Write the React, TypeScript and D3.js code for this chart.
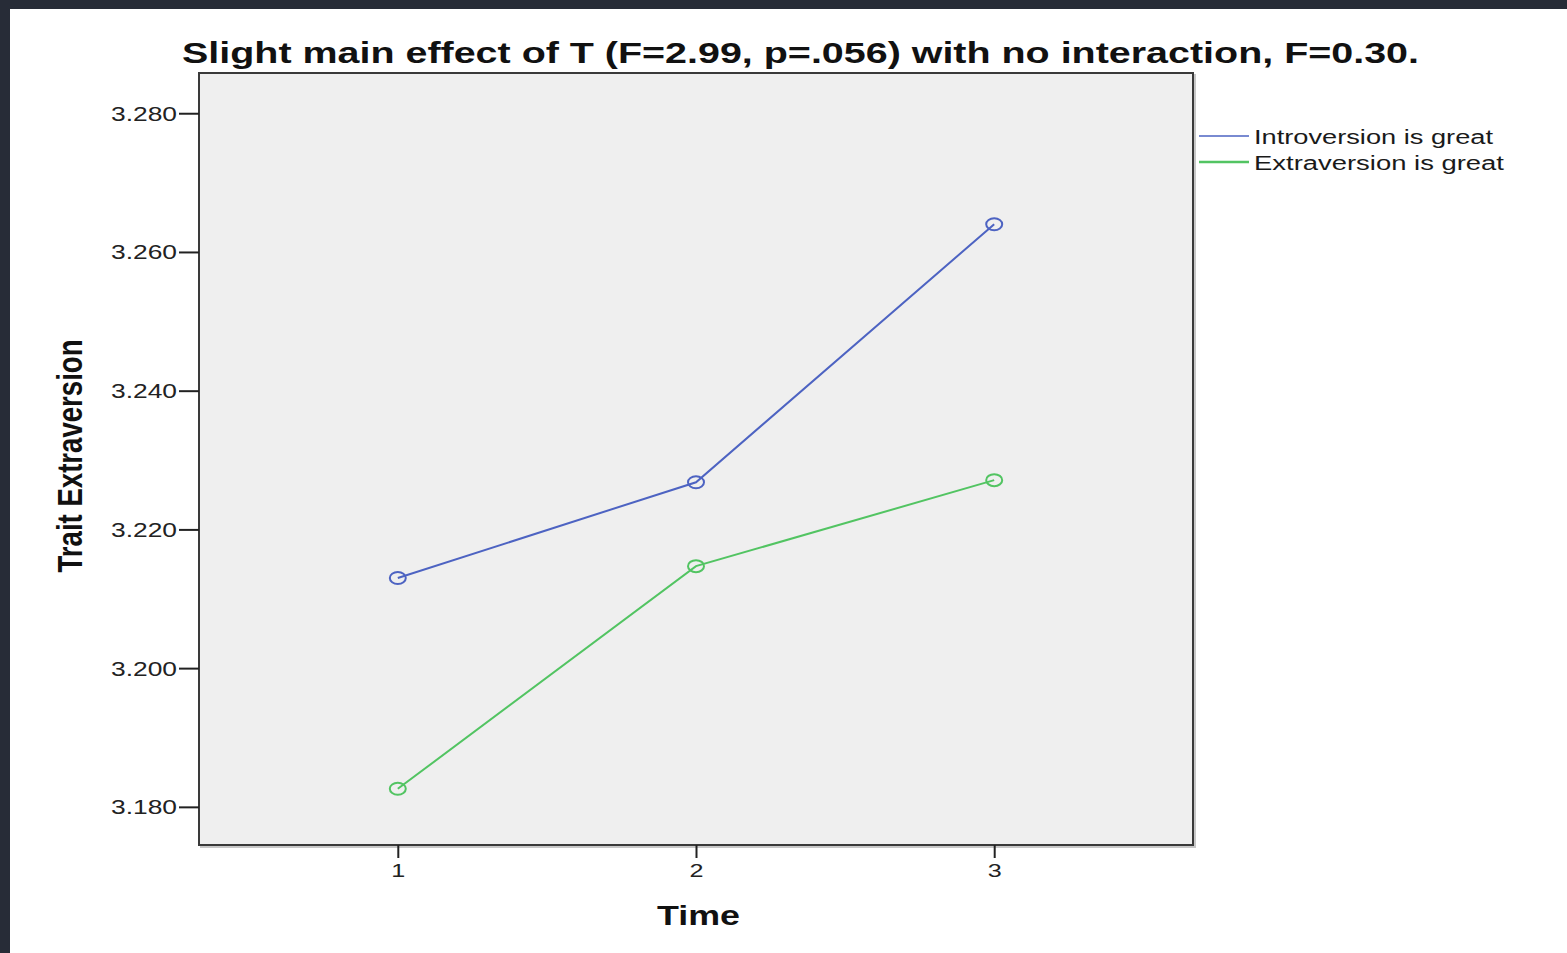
import React, { useRef, useEffect } from 'react';
import * as d3 from 'd3';

// Estimated marginal means
const times = [1, 2, 3];
const introversion = [3.213, 3.2268, 3.264];
const extraversion = [3.1826, 3.2147, 3.2271];
const yTicks = [3.18, 3.2, 3.22, 3.24, 3.26, 3.28];
const seriesNames = ['Introversion is great', 'Extraversion is great'];
const seriesColors = ['#4d63c2', '#52c462'];

const title = 'Slight main effect of T (F=2.99, p=.056) with no interaction, F=0.30.';

function drawChart(ref) {
  const W = 1567, H = 953;
  const plot = { left: 199, right: 1193, top: 73, bottom: 845 };

  const root = d3.select(ref.current);
  root.selectAll('*').remove();

  const svg = root.append('svg')
    .attr('width', W)
    .attr('height', H)
    .style('position', 'absolute')
    .style('left', 0)
    .style('top', 0)
    .style('font-family', '"Liberation Sans", Arial, sans-serif');

  svg.append('rect').attr('width', W).attr('height', H).attr('fill', '#ffffff');
  // dark frame of the screenshot
  svg.append('rect').attr('width', W).attr('height', 9).attr('fill', '#272c37');
  svg.append('rect').attr('width', 10).attr('height', H).attr('fill', '#272c37');

  const x = d3.scaleLinear()
    .domain([1 / 3, 11 / 3])
    .range([plot.left, plot.right]);
  const y = d3.scaleLinear()
    .domain([3.1745, 3.2858])
    .range([plot.bottom, plot.top]);

  // plot background + frame
  svg.append('rect')
    .attr('x', plot.left + 2).attr('y', plot.top + 2)
    .attr('width', plot.right - plot.left).attr('height', plot.bottom - plot.top)
    .attr('fill', 'none').attr('stroke', '#c8c8c8').attr('stroke-width', 2);
  svg.append('rect')
    .attr('x', plot.left).attr('y', plot.top)
    .attr('width', plot.right - plot.left).attr('height', plot.bottom - plot.top)
    .attr('fill', '#efefef').attr('stroke', '#3a3a3a').attr('stroke-width', 2);

  // y axis
  const yAxis = svg.append('g')
    .attr('transform', `translate(${plot.left},0)`)
    .call(d3.axisLeft(y).tickValues(yTicks).tickFormat(d3.format('.3f')).tickSize(20).tickPadding(2));
  yAxis.select('.domain').remove();
  yAxis.selectAll('line').attr('stroke', '#222').attr('stroke-width', 2);
  yAxis.selectAll('text')
    .attr('fill', '#222')
    .attr('font-size', 19.5)
    .attr('font-family', '"Liberation Sans", Arial, sans-serif')
    .attr('dy', '0.36em')
    .attr('textLength', 66)
    .attr('lengthAdjust', 'spacingAndGlyphs');

  // x axis
  const xAxis = svg.append('g')
    .attr('transform', `translate(0,${plot.bottom})`)
    .call(d3.axisBottom(x).tickValues(times).tickFormat(d3.format('d')).tickSize(13).tickPadding(6));
  xAxis.select('.domain').remove();
  xAxis.selectAll('line').attr('stroke', '#222').attr('stroke-width', 2);
  xAxis.selectAll('text')
    .attr('fill', '#222')
    .attr('font-size', 19)
    .attr('font-family', '"Liberation Sans", Arial, sans-serif')
    .attr('textLength', 14)
    .attr('lengthAdjust', 'spacingAndGlyphs');

  // lines and markers
  const series = [introversion, extraversion];
  const line = d3.line()
    .x((d, i) => x(times[i]))
    .y((d) => y(d));

  series.forEach((vals, s) => {
    svg.append('path')
      .datum(vals)
      .attr('d', line)
      .attr('fill', 'none')
      .attr('stroke', seriesColors[s])
      .attr('stroke-width', 2);
    svg.selectAll(null)
      .data(vals)
      .join('ellipse')
      .attr('cx', (d, i) => x(times[i]))
      .attr('cy', (d) => y(d))
      .attr('rx', 8)
      .attr('ry', 6)
      .attr('fill', 'none')
      .attr('stroke', seriesColors[s])
      .attr('stroke-width', 2);
  });

  // legend
  const legend = svg.append('g');
  const legendWidths = [239, 250];
  seriesNames.forEach((name, i) => {
    const ly = 136 + i * 26;
    legend.append('line')
      .attr('x1', 1199).attr('x2', 1249)
      .attr('y1', ly).attr('y2', ly)
      .attr('stroke', seriesColors[i])
      .attr('stroke-width', i === 0 ? 1.5 : 2.5);
    legend.append('text')
      .attr('x', 1254).attr('y', ly + 8)
      .attr('font-size', 19.5)
      .attr('fill', '#1a1a1a')
      .attr('textLength', legendWidths[i])
      .attr('lengthAdjust', 'spacingAndGlyphs')
      .text(name);
  });

  // title
  svg.append('text')
    .attr('x', 182).attr('y', 63)
    .attr('font-size', 29)
    .attr('font-weight', 'bold')
    .attr('fill', '#111')
    .attr('textLength', 1237)
    .attr('lengthAdjust', 'spacingAndGlyphs')
    .text(title);

  // axis titles
  svg.append('text')
    .attr('transform', 'translate(82,456) scale(1.27,1) rotate(-90)')
    .attr('text-anchor', 'middle')
    .attr('font-size', 27)
    .attr('font-weight', 'bold')
    .attr('fill', '#111')
    .attr('textLength', 233)
    .attr('lengthAdjust', 'spacingAndGlyphs')
    .text('Trait Extraversion');

  svg.append('text')
    .attr('x', 657).attr('y', 925)
    .attr('font-size', 28)
    .attr('font-weight', 'bold')
    .attr('fill', '#111')
    .attr('textLength', 83)
    .attr('lengthAdjust', 'spacingAndGlyphs')
    .text('Time');
}

export default function App() {
  const chart = useRef(null);

  useEffect(() => {
    drawChart(chart);
  }, []);

  return <div ref={chart}></div>;
}
